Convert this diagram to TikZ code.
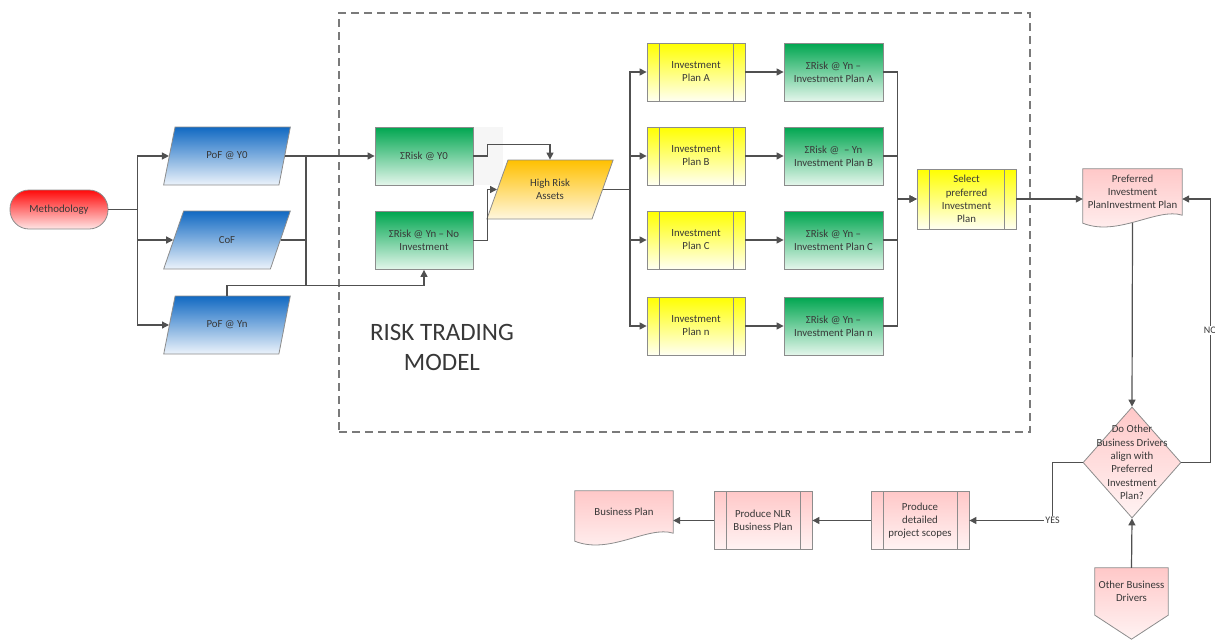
\documentclass[tikz,border=0pt]{standalone}
\usepackage{fontspec}
\setmainfont{Carlito}
\usetikzlibrary{shapes.geometric,arrows.meta,backgrounds,calc}

\definecolor{linecolor}{HTML}{505050}
\definecolor{bordercolor}{HTML}{8C8C8C}
\definecolor{textcolor}{HTML}{383838}
\definecolor{framecolor}{HTML}{7A7A7A}
\definecolor{redtop}{HTML}{FF0A0A}
\definecolor{redbot}{HTML}{FFE6E6}
\definecolor{bluetop}{HTML}{1169C2}
\definecolor{bluebot}{HTML}{ECF3FB}
\definecolor{greentop}{HTML}{00A650}
\definecolor{greenbot}{HTML}{E4F6EB}
\definecolor{yellowtop}{HTML}{FFFF00}
\definecolor{yellowbot}{HTML}{FFFFF2}
\definecolor{orangetop}{HTML}{FFC000}
\definecolor{orangebot}{HTML}{FFF7DF}
\definecolor{pinktop}{HTML}{FFC8C8}
\definecolor{pinkbot}{HTML}{FFF3F3}
\definecolor{ghostgray}{HTML}{F6F6F6}

\tikzset{
  txt/.style={text=textcolor, font=\fontsize{10.8}{13}\selectfont, align=center},
  box/.style={txt, draw=bordercolor, line width=0.8pt, minimum width=98, minimum height=58, inner sep=2pt},
  procbox/.style={box, path picture={
      \draw[bordercolor, line width=0.8pt]
        ([xshift=12pt]path picture bounding box.north west) -- ([xshift=12pt]path picture bounding box.south west)
        ([xshift=-12pt]path picture bounding box.north east) -- ([xshift=-12pt]path picture bounding box.south east);}},
  datain/.style={txt, draw=bordercolor, line width=0.8pt, trapezium, trapezium left angle=65,
      trapezium right angle=115, trapezium stretches=true, minimum width=127, minimum height=58, inner sep=1pt},
  pill/.style={box, rounded corners=19pt, minimum height=39},
  doc/.style={txt, minimum width=99, minimum height=46, inner sep=1pt},
  decision/.style={draw=bordercolor, line width=0.8pt, diamond, minimum width=98, minimum height=111, inner sep=0pt},
  offpage/.style={txt, minimum width=73, minimum height=47, inner sep=1pt},
  frame/.style={draw=framecolor, line width=1.2pt, dash pattern=on 8pt off 5pt, minimum width=691, minimum height=419},
  bigtitle/.style={text=textcolor, font=\fontsize{25}{30}\selectfont, align=center},
  lbl/.style={text=textcolor, font=\fontsize{10}{12}\selectfont, fill=white, inner sep=1pt},
  line/.style={draw=linecolor, line width=1.2pt},
  conn/.style={line, -{Triangle[length=7pt,width=7pt]}},
  redfill/.style={top color=redtop, bottom color=redbot},
  bluefill/.style={top color=bluetop, bottom color=bluebot},
  greenfill/.style={top color=greentop, bottom color=greenbot},
  yellowfill/.style={top color=yellowtop, bottom color=yellowbot},
  orangefill/.style={top color=orangetop, bottom color=orangebot},
  pinkfill/.style={top color=pinktop, bottom color=pinkbot},
}

% document outline with a wavy foot
\newcommand{\docshape}[1]{%
  \shade[pinkfill, draw=bordercolor, line width=0.8pt]
    (#1.north west) -- (#1.north east) -- (#1.south east)
    .. controls ([xshift=-25pt,yshift=8pt]#1.south east) and ([xshift=35pt,yshift=-22pt]#1.south west) ..
    ([yshift=-8pt]#1.south west) -- cycle;}

\begin{document}
\begin{tikzpicture}[x=1pt,y=-1pt]
\useasboundingbox (0,0) rectangle (1215,640);

\node[frame] (rtmframe) at (684.5,222.5) {};
\node[bigtitle] (rtmtitle) at (442,347) {RISK TRADING\\MODEL};

\node[pill, redfill] (meth) at (59,209.5) {Methodology};

\node[datain, bluefill] (pofy0) at (227,156) {PoF @ Y0};
\node[datain, bluefill] (cof) at (227,240) {CoF};
\node[datain, bluefill] (pofyn) at (227,325) {PoF @ Yn};

\node[box, greenfill] (sumy0) at (424,156) {ΣRisk @ Y0};
\node[box, greenfill] (sumyn) at (424,240.5) {ΣRisk @ Yn – No\\Investment};
\node[datain, orangefill, minimum height=59] (hra) at (550,189.5) {High Risk\\Assets};

\node[procbox, yellowfill] (plana) at (696,72) {Investment\\Plan A};
\node[procbox, yellowfill] (planb) at (696,156) {Investment\\Plan B};
\node[procbox, yellowfill] (planc) at (696,240) {Investment\\Plan C};
\node[procbox, yellowfill] (plann) at (696,326) {Investment\\Plan n};

\node[box, greenfill, minimum width=99] (suma) at (833.5,72) {ΣRisk @ Yn –\\Investment Plan A};
\node[box, greenfill, minimum width=99] (sumb) at (833.5,156) {ΣRisk @ \ – Yn\\Investment Plan B};
\node[box, greenfill, minimum width=99] (sumc) at (833.5,240) {ΣRisk @ Yn –\\Investment Plan C};
\node[box, greenfill, minimum width=99] (sumn) at (833.5,326) {ΣRisk @ Yn –\\Investment Plan n};

\node[procbox, yellowfill, minimum width=99, minimum height=60,
  font=\fontsize{10.8}{13.3}\selectfont] (select) at (966.5,199) {Select\\preferred\\Investment\\Plan};

\node[doc] (prefdoc) at (1132.5,192) {Preferred\\Investment\\PlanInvestment Plan};
\node[decision, top color=pinktop, bottom color=pinkbot,
  label={[txt, font=\fontsize{10.8}{13.4}\selectfont]center:{Do Other\\Business Drivers\\align with\\Preferred\\Investment\\Plan?}}]
  (align) at (1132,462.5) {};
\node[offpage] (otherdrv) at (1131.5,591.5) {Other Business\\Drivers};

\node[procbox, pinkfill] (scopes) at (920,520.5) {Produce\\detailed\\project scopes};
\node[procbox, pinkfill] (nlr) at (763,520.5) {Produce NLR\\Business Plan};
\node[doc, minimum width=98, minimum height=42] (bizplan) at (624,512) {Business Plan};

\begin{scope}[on background layer]
\fill[ghostgray] (sumy0.north west) rectangle ([xshift=30pt]sumy0.south east);
\docshape{prefdoc}
\docshape{bizplan}
\shade[pinkfill, draw=bordercolor, line width=0.8pt]
  (otherdrv.north west) -- (otherdrv.north east) -- (otherdrv.south east)
  -- ([yshift=-24pt]otherdrv.south) -- (otherdrv.south west) -- cycle;
\end{scope}

\draw[conn] (meth.east) -- ++(29,0) |- (pofy0.left side);
\draw[conn] (meth.east) -- ++(29,0) |- (cof.left side);
\draw[conn] (meth.east) -- ++(29,0) |- (pofyn.left side);

\coordinate (bus) at (306,285.5);
\draw[conn] (pofy0.right side) -- (sumy0.west);
\draw[line] (pofy0.right side) -| (bus);
\draw[line] (cof.right side) -| (bus);
\draw[conn] (pofyn.north) |- (bus) -| (sumyn.south);

\draw[conn] (sumy0.east) -- ++(14,0) |- ([yshift=15pt]hra.north) -- (hra.north);
\draw[conn] (sumyn.east) -- ++(14,0) |- (hra.left side);

\draw[conn] (hra.right side) -- ++(27,0) |- (plana.west);
\draw[conn] (hra.right side) -- ++(27,0) |- (planb.west);
\draw[conn] (hra.right side) -- ++(27,0) |- (planc.west);
\draw[conn] (hra.right side) -- ++(27,0) |- (plann.west);

\draw[conn] (plana.east) -- (suma.west);
\draw[conn] (planb.east) -- (sumb.west);
\draw[conn] (planc.east) -- (sumc.west);
\draw[conn] (plann.east) -- (sumn.west);

\draw[conn] (suma.east) -- ++(14,0) |- (select.west);
\draw[conn] (sumb.east) -- ++(14,0) |- (select.west);
\draw[conn] (sumc.east) -- ++(14,0) |- (select.west);
\draw[conn] (sumn.east) -- ++(14,0) |- (select.west);

\draw[conn] (select.east) -- (select.east -| prefdoc.west);
\draw[conn] ([yshift=-8pt]prefdoc.south) -- (align.north);
\draw[conn] (align.east) -- ++(29,0) |- node[lbl, pos=0.25] {NO} (select.east -| prefdoc.east);
\draw[conn] (otherdrv.north) -- (align.south);
\draw[conn] (align.west) -- ++(-30,0) |- node[lbl, pos=0.5] {YES} (scopes.east);
\draw[conn] (scopes.west) -- (nlr.east);
\draw[conn] (nlr.west) -- (nlr.west -| bizplan.east);
\end{tikzpicture}
\end{document}
